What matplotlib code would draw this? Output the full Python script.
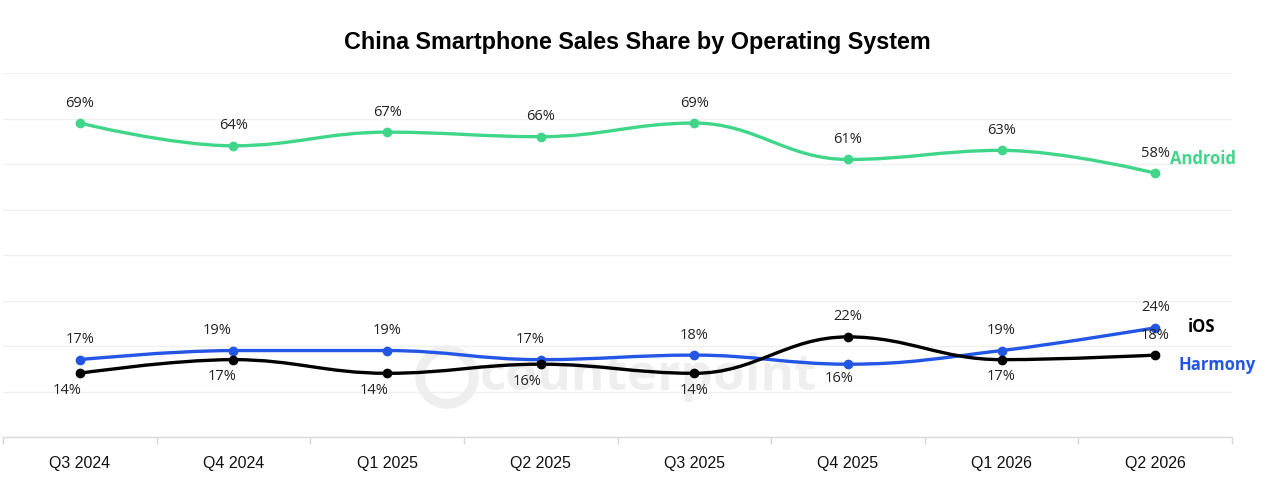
import matplotlib
matplotlib.use("Agg")
import matplotlib.pyplot as plt
from matplotlib.path import Path
from matplotlib.patches import PathPatch
import matplotlib.transforms as mtransforms
import numpy as np

quarters = ["Q3 2024", "Q4 2024", "Q1 2025", "Q2 2025", "Q3 2025", "Q4 2025", "Q1 2026", "Q2 2026"]
android = [69, 64, 67, 66, 69, 61, 63, 58]
blue_series = [17, 19, 19, 17, 18, 16, 19, 24]
black_series = [14, 17, 14, 16, 14, 22, 17, 18]

GREEN = "#3fd68a"
BLUE = "#2456e6"
BLACK = "#000000"

# label placement (pixel offsets): (dx, dy) where dy>0 is above
android_off = [(0, 20)] * 8
blue_off = [(0, 20), (-16, 20), (0, 20), (-11, 20), (0, 20), (-9, -14), (0, 20), (0, 20)]
black_off = [(-13, -17), (-11, -17), (-13, -17), (-14, -17), (0, -17), (0, 20), (0, -17), (0, 20)]


def spline_path(xs, ys):
    n = len(xs)
    smoothing = 1.5
    denom = smoothing + 1
    lc = [None] * n
    rc = [None] * n
    for i in range(1, n - 1):
        px, py = xs[i], ys[i]
        lx, ly = xs[i - 1], ys[i - 1]
        nx, ny = xs[i + 1], ys[i + 1]
        lcx = (smoothing * px + lx) / denom
        lcy = (smoothing * py + ly) / denom
        rcx = (smoothing * px + nx) / denom
        rcy = (smoothing * py + ny) / denom
        corr = 0
        if rcx != lcx:
            corr = ((rcy - lcy) * (rcx - px)) / (rcx - lcx) + py - rcy
        lcy += corr
        rcy += corr
        if lcy > ly and lcy > py:
            lcy = max(ly, py); rcy = 2 * py - lcy
        elif lcy < ly and lcy < py:
            lcy = min(ly, py); rcy = 2 * py - lcy
        if rcy > ny and rcy > py:
            rcy = max(ny, py); lcy = 2 * py - rcy
        elif rcy < ny and rcy < py:
            rcy = min(ny, py); lcy = 2 * py - rcy
        lc[i] = (lcx, lcy)
        rc[i] = (rcx, rcy)
    verts = [(xs[0], ys[0])]
    codes = [Path.MOVETO]
    for i in range(1, n):
        c1 = rc[i - 1] if rc[i - 1] is not None else (xs[i - 1], ys[i - 1])
        c2 = lc[i] if lc[i] is not None else (xs[i], ys[i])
        verts += [c1, c2, (xs[i], ys[i])]
        codes += [Path.CURVE4] * 3
    return Path(verts, codes)


fig = plt.figure(figsize=(12.8, 5.04), dpi=100)
ax = fig.add_axes([3 / 1280, (504 - 437) / 504, (1232 - 3) / 1280, (437 - 73) / 504])
x = np.arange(len(quarters))
ax.set_xlim(-0.5, len(quarters) - 0.5)
ax.set_ylim(0, 80)

for gy in range(10, 81, 10):
    ax.axhline(gy, color="#f0f0f0", lw=1, zorder=0)

# watermark (drawn inside the axes, beneath the lines)
ax.text(480 / 1280, 1 - 377 / 504, "counterpoint", transform=fig.transFigure, ha="left", va="center",
        fontsize=37, fontweight="bold", color="#eeeeee", family="Open Sans", zorder=0.5)
ax.scatter([447 / 1280], [1 - 377 / 504], s=1500, transform=fig.transFigure, facecolors="none",
           edgecolors="#eeeeee", linewidths=7, zorder=0.5)

for vals, col, offs in [(android, GREEN, android_off), (blue_series, BLUE, blue_off),
                        (black_series, BLACK, black_off)]:
    p = spline_path(list(x.astype(float)), list(map(float, vals)))
    ax.add_patch(PathPatch(p, facecolor="none", edgecolor=col, lw=2.4, zorder=3,
                           capstyle="round", joinstyle="round"))
    ax.plot(x, vals, "o", color=col, ms=6, zorder=4)
    for xi, v, (dx, dy) in zip(x, vals, offs):
        tr = mtransforms.offset_copy(ax.transData, fig=fig, x=dx * 0.72, y=dy * 0.72, units="points")
        ax.text(xi, v, f"{v}%", transform=tr, ha="center", va="center",
                fontsize=10.5, color="#222222", family="Open Sans", zorder=5)

ax.set_xticks(x)
ax.set_xticklabels(quarters, fontsize=11.5, family="Liberation Sans", color="#111111")
ax.set_xticks(np.arange(-0.5, len(quarters)), minor=True)
ax.tick_params(axis="x", which="major", length=0, pad=14)
ax.tick_params(axis="x", which="minor", length=5, color="#d8d8d8", width=1)
ax.set_yticks([])
for s in ["top", "right", "left"]:
    ax.spines[s].set_visible(False)
ax.spines["bottom"].set_color("#d8d8d8")
ax.spines["bottom"].set_linewidth(1)

# series names
fig.text(1170 / 1280, 1 - 159 / 504, "Android", color=GREEN, fontsize=12, fontweight="bold",
         family="Open Sans", ha="left", va="center")
fig.text(1188 / 1280, 1 - 327 / 504, "iOS", color=BLACK, fontsize=12, fontweight="bold",
         family="Open Sans", ha="left", va="center")
fig.text(1178 / 1280, 1 - 365 / 504, "Harmony", color=BLUE, fontsize=12, fontweight="bold",
         family="Open Sans", ha="left", va="center")

fig.text(637 / 1280, 1 - 43 / 504, "China Smartphone Sales Share by Operating System",
         ha="center", va="center", fontsize=16.8, fontweight="bold", family="Liberation Sans")

fig.savefig("out.png", dpi=100, facecolor="white")
